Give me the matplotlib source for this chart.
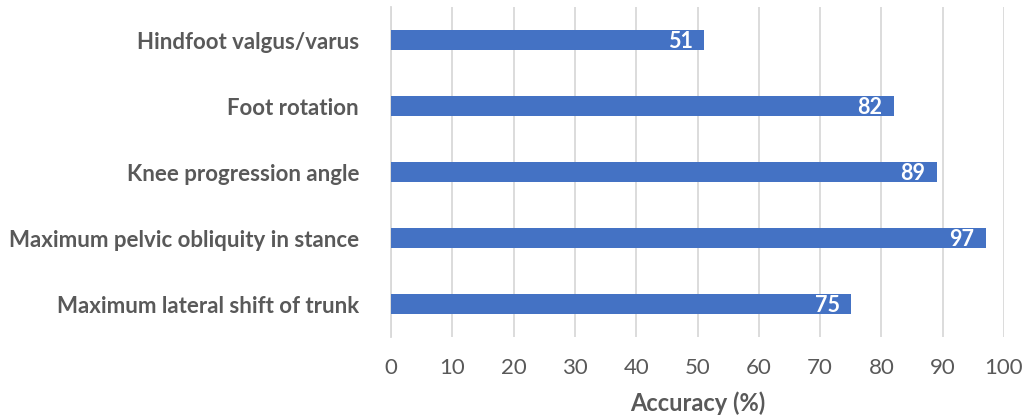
import matplotlib.pyplot as plt

# gait parameter accuracy (%)
params = ["Hindfoot valgus/varus", "Foot rotation", "Knee progression angle",
          "Maximum pelvic obliquity in stance", "Maximum lateral shift of trunk"]
accuracy = [51, 82, 89, 97, 75]
xticks = [0, 10, 20, 30, 40, 50, 60, 70, 80, 90, 100]

plt.rcParams['font.family'] = ['Lato', 'DejaVu Sans']

fig = plt.figure(figsize=(10.25, 4.2), dpi=100)
ax = fig.add_axes([0.3815, 0.1976, 0.598, 0.7857])

ypos = list(range(len(params)))
bars = ax.barh(ypos, accuracy, height=0.30, color='#4472C4', zorder=3)
ax.set_ylim(len(params) - 0.5, -0.5)
ax.set_xlim(0, 100)

for b, v in zip(bars, accuracy):
    ax.text(v - 1.8, b.get_y() + b.get_height() / 2 + 0.02, str(v), ha='right', va='center',
            color='white', fontsize=15.5, fontweight='bold', zorder=4)

ax.set_yticks(ypos)
ax.set_yticklabels(params, fontsize=16, fontweight='bold', color='#595959')
ax.set_xticks(xticks)
ax.set_xticklabels([str(t) for t in xticks], fontsize=16, color='#595959')
ax.tick_params(axis='y', length=0, pad=23)
ax.tick_params(axis='x', length=0, pad=15)
ax.set_xlabel("Accuracy (%)", fontsize=17, fontweight='bold', color='#595959', labelpad=10)

ax.grid(axis='x', color='#D9D9D9', linewidth=1.3, zorder=0)
for s in ['top', 'right', 'bottom']:
    ax.spines[s].set_visible(False)
ax.spines['left'].set_color('#D9D9D9')
ax.spines['left'].set_linewidth(1.3)

fig.savefig('out.png', dpi=100)
